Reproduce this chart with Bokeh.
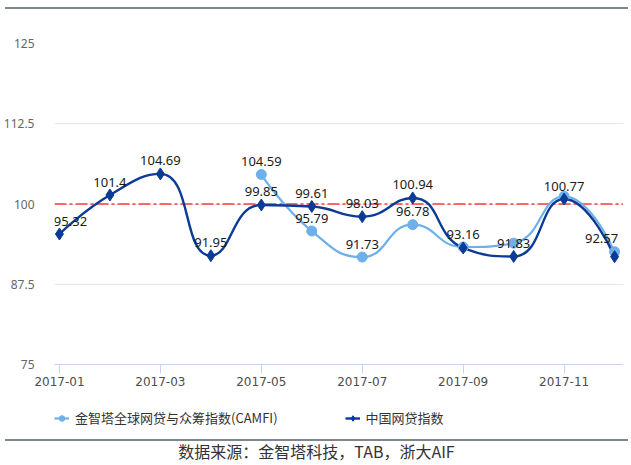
import math
from bokeh.plotting import figure
from bokeh.models import (Range1d, FixedTicker, ColumnDataSource, Legend,
                          LegendItem, Div, Span)
from bokeh.layouts import column
from bokeh.embed import file_html
from bokeh.resources import INLINE
from bokeh.core.properties import value

# ---------------- data ----------------
month_labels = ["2017-01", "2017-02", "2017-03", "2017-04", "2017-05", "2017-06",
                "2017-07", "2017-08", "2017-09", "2017-10", "2017-11", "2017-12"]
tick_months = [0, 2, 4, 6, 8, 10]
china_index = [95.32, 101.4, 104.69, 91.95, 99.85, 99.61, 98.03, 100.94, 93.16,
               91.83, 100.77, 91.8]
camfi_index = [None, None, None, None, 104.59, 95.79, 91.73, 96.78, 93.3,
               93.9, 101.2, 92.57]
china_label_shown = [True] * 11 + [False]
camfi_label_shown = [False] * 4 + [True] * 4 + [False] * 3 + [True]
y_ticks = [75, 87.5, 100, 112.5, 125]
y_tick_labels = ["75", "87.5", "100", "112.5", "125"]
baseline = 100
series_names = ["金智塔全球网贷与众筹指数(CAMFI)", "中国网贷指数"]
source_text = "数据来源：金智塔科技，TAB，浙大AIF"

# ---------------- layout constants ----------------
W = 623
H_MAIN = 381
H_LEG = 39
BORDER_L = 48
FRAME_W, FRAME_H = W - BORDER_L, 321
PX_PER_MONTH = 51.0
X_START = -5.0 / PX_PER_MONTH
X_END = X_START + FRAME_W / PX_PER_MONTH
PX_PER_UNIT = FRAME_H / (y_ticks[-1] - y_ticks[0])

DARK = "#0c3b97"
LIGHT = "#6eb0ea"


def smooth_bezier(xs, ys, smooth=0.5):
    """ECharts-style smoothing control points, computed in pixel space."""
    pts = [(x * PX_PER_MONTH, y * PX_PER_UNIT) for x, y in zip(xs, ys) if y is not None]
    out = dict(x0=[], y0=[], x1=[], y1=[], cx0=[], cy0=[], cx1=[], cy1=[])
    n = len(pts)
    cp0 = pts[0]
    prev = pts[0]
    for k in range(1, n):
        x, y = pts[k]
        px_, py_ = prev
        nxt = (x, y)
        if k == n - 1:
            cp1 = (x, y)
        else:
            nx, ny = pts[k + 1]
            vx, vy = nx - px_, ny - py_
            lp = math.hypot(x - px_, y - py_)
            ln = math.hypot(nx - x, ny - y)
            r = ln / (ln + lp)
            ncx = x + vx * smooth * r
            ncy = y + vy * smooth * r
            ncx = max(min(ncx, max(nx, x)), min(nx, x))
            ncy = max(min(ncy, max(ny, y)), min(ny, y))
            vx, vy = ncx - x, ncy - y
            c1x = x - vx * lp / ln
            c1y = y - vy * lp / ln
            c1x = max(min(c1x, max(px_, x)), min(px_, x))
            c1y = max(min(c1y, max(py_, y)), min(py_, y))
            vx, vy = x - c1x, y - c1y
            ncx = x + vx * ln / lp
            ncy = y + vy * ln / lp
            cp1 = (c1x, c1y)
            nxt = (ncx, ncy)
        out["x0"].append(prev[0] / PX_PER_MONTH)
        out["y0"].append(prev[1] / PX_PER_UNIT)
        out["x1"].append(x / PX_PER_MONTH)
        out["y1"].append(y / PX_PER_UNIT)
        out["cx0"].append(cp0[0] / PX_PER_MONTH)
        out["cy0"].append(cp0[1] / PX_PER_UNIT)
        out["cx1"].append(cp1[0] / PX_PER_MONTH)
        out["cy1"].append(cp1[1] / PX_PER_UNIT)
        cp0 = nxt
        prev = (x, y)
    return out


months = list(range(len(month_labels)))

p = figure(width=W, height=H_MAIN,
           x_range=Range1d(X_START, X_END),
           y_range=Range1d(y_ticks[0], y_ticks[-1]),
           output_backend="svg", toolbar_location=None,
           min_border_left=BORDER_L, min_border_right=0,
           min_border_top=29, min_border_bottom=H_MAIN - 29 - FRAME_H)
p.outline_line_color = None
p.xgrid.visible = False
p.ygrid.grid_line_color = "#e6e6e6"
p.ygrid.grid_line_width = 1

# reference line at 100
p.add_layout(Span(location=baseline, dimension="width", line_color="#ff3b3b",
                  line_width=1.5, line_dash="12 3 3 3", level="underlay"))

# x axis
p.xaxis.ticker = FixedTicker(ticks=tick_months)
p.xaxis.major_label_overrides = {m: month_labels[m] for m in tick_months}
p.xaxis.axis_line_color = "#c6d3ee"
p.xaxis.major_tick_line_color = "#c6d3ee"
p.xaxis.major_tick_out = 9
p.xaxis.major_tick_in = 0
p.xaxis.minor_tick_line_color = None
p.xaxis.major_label_text_font = "DejaVu Sans"
p.xaxis.major_label_text_font_size = "12px"
p.xaxis.major_label_text_color = "#4d4d4d"
p.xaxis.major_label_standoff = 3

# y axis
p.yaxis.ticker = FixedTicker(ticks=y_ticks)
p.yaxis.major_label_overrides = {t: l for t, l in zip(y_ticks, y_tick_labels)}
p.yaxis.axis_line_color = None
p.yaxis.major_tick_line_color = None
p.yaxis.minor_tick_line_color = None
p.yaxis.major_label_text_font = "Noto Sans"
p.yaxis.major_label_text_font_size = "12px"
p.yaxis.major_label_text_color = "#666666"
p.yaxis.major_label_standoff = 14

# series
p.bezier(source=ColumnDataSource(smooth_bezier(months, camfi_index)),
         x0="x0", y0="y0", x1="x1", y1="y1", cx0="cx0", cy0="cy0",
         cx1="cx1", cy1="cy1", line_color=LIGHT, line_width=2.2)
p.bezier(source=ColumnDataSource(smooth_bezier(months, china_index)),
         x0="x0", y0="y0", x1="x1", y1="y1", cx0="cx0", cy0="cy0",
         cx1="cx1", cy1="cy1", line_color=DARK, line_width=2.4)

cm = [m for m, v in zip(months, camfi_index) if v is not None]
cv = [v for v in camfi_index if v is not None]
p.scatter(cm, cv, marker="circle", size=10, fill_color=LIGHT, line_color=LIGHT)
p.scatter(months, china_index, marker="diamond", size=12,
          fill_color=DARK, line_color=DARK)

# value labels (first and last nudged inwards so the frame does not cut them)
lx, ly, lt, lo = [], [], [], []
for series, shown in ((china_index, china_label_shown), (camfi_index, camfi_label_shown)):
    for m, v, s in zip(months, series, shown):
        if s and v is not None:
            lx.append(m)
            ly.append(v)
            lt.append(str(v))
            lo.append(-13 if m == months[-1] else (11 if m == months[0] else 0))
p.text(source=ColumnDataSource(dict(x=lx, y=ly, t=lt, o=lo)), x="x", y="y",
       text="t", x_offset="o", y_offset=-13, text_align="center",
       text_baseline="middle", text_font=value("Noto Sans"),
       text_font_size="13px", text_color="#1a1a1a")

# ---------------- legend strip ----------------
pl = figure(width=W, height=H_LEG, x_range=Range1d(-2, -1), y_range=Range1d(0, 1),
            output_backend="svg", toolbar_location=None,
            x_axis_location=None, y_axis_location=None,
            min_border=0, min_border_left=0, min_border_right=0,
            min_border_top=0, min_border_bottom=0)
pl.outline_line_color = None
pl.grid.visible = False
# same series, plotted out of this strip's view: only their legend glyphs show
l_camfi = pl.line(cm, cv, line_color=LIGHT, line_width=2.2)
m_camfi = pl.scatter(cm, cv, marker="circle", size=10, fill_color=LIGHT,
                     line_color=LIGHT)
l_china = pl.line(months, china_index, line_color=DARK, line_width=2.4)
m_china = pl.scatter(months, china_index, marker="diamond", size=12,
                     fill_color=DARK, line_color=DARK)
legend = Legend(items=[LegendItem(label=series_names[0], renderers=[l_camfi, m_camfi]),
                       LegendItem(label=series_names[1], renderers=[l_china, m_china])],
                orientation="horizontal", location=(0, 7),
                glyph_width=15, glyph_height=14, label_standoff=6, spacing=67,
                padding=0, margin=0, border_line_color=None,
                background_fill_alpha=0,
                label_text_font="Noto Sans CJK SC", label_text_font_size="13px",
                label_text_color="#333333")
pl.add_layout(legend)

top = Div(text="", width=W, height=4,
          styles={"border-bottom": "2px solid #7f868c"})
bottom = Div(text=source_text, width=W, height=21,
             styles={"border-top": "2px solid #7f868c", "font-size": "16px",
                     "font-family": "'Noto Sans CJK SC'", "color": "#333333",
                     "text-align": "center", "line-height": "21px"})

layout = column(top, p, pl, bottom, spacing=0)
open("out.html", "w").write(file_html(layout, INLINE))
